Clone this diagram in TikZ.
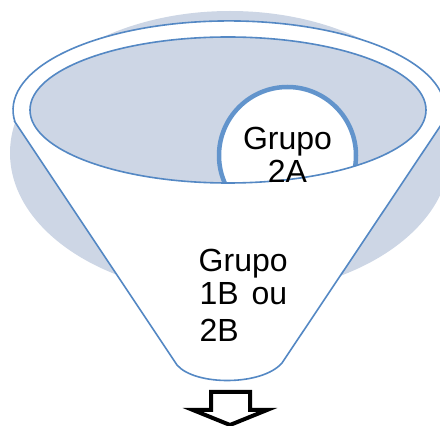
\documentclass[tikz,border=0pt]{standalone}
\usepackage{fontspec}
\setmainfont{Liberation Sans}
\definecolor{funnelline}{RGB}{84,136,196}
\definecolor{ringline}{RGB}{98,148,204}
\definecolor{funnelfill}{RGB}{205,214,229}
\tikzset{
  rim/.style={draw=funnelline, line width=1.6pt},
  ring/.style={draw=ringline, line width=4.5pt, fill=white},
  label/.style={inner sep=0pt, font=\fontsize{32}{35}\selectfont, text=black},
  downarrow/.style={draw=black, line width=4pt, line join=miter, fill=white}
}
\begin{document}
\begin{tikzpicture}[x=1pt, y=1pt]
\useasboundingbox (0,0) rectangle (440,426);

% shaded disc behind the funnel
\fill[funnelfill] (230,273) ellipse [x radius=220pt, y radius=142pt];

% funnel body: outer rim arc, slanted sides and rounded spout
\coordinate (rimL) at (15,304);
\coordinate (rimR) at (443,304);
\coordinate (spoutL) at (177,61);
\coordinate (spoutR) at (282,63);
\filldraw[rim, fill=white] (rimL) -- (spoutL)
  .. controls (195,40) and (262,40) .. (spoutR) -- (rimR)
  arc [start angle=-7.8, end angle=187.8, x radius=216pt, y radius=89pt] -- cycle;

% opening of the funnel
\fill[funnelfill] (228,316) ellipse [x radius=198pt, y radius=73pt];

% ball sitting in the opening
\begin{scope}
  \clip (228,316) ellipse [x radius=198pt, y radius=73pt];
  \path[ring] (287.5,270.5) circle [radius=68.5pt];
\end{scope}
\draw[rim] (228,316) ellipse [x radius=198pt, y radius=73pt];

% labels
\node[label, anchor=base] (topA) at (287.5,276) {Grupo};
\node[label, anchor=base] (topB) at (287.5,243) {2A};
\node[label, anchor=base west] (lowA) at (198.5,154.5) {Grupo};
\node[label, anchor=base west] (lowB) at (199.5,121) {1B\hspace{4pt} ou};
\node[label, anchor=base west] (lowC) at (199.5,84.5) {2B};

% outlined arrow below the spout
\draw[downarrow] (211,34) -- (250,34) -- (250,16) -- (267,16) -- (230,1)
  -- (193,16) -- (211,16) -- cycle;
\end{tikzpicture}
\end{document}
